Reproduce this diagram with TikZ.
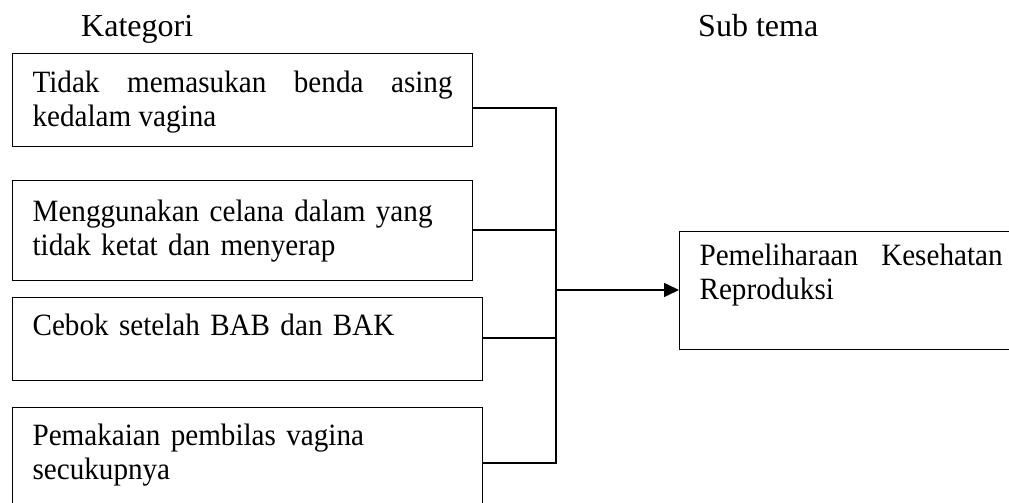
\documentclass[tikz,border=0pt]{standalone}
\usepackage{fontspec}
\setmainfont{Liberation Serif}
\newfontfamily\isiHuruf{Liberation Serif}[FakeStretch=0.94]
\usetikzlibrary{arrows.meta}
\newcommand{\judulFont}[0]{\fontsize{32}{36}\selectfont}
\newcommand{\kotakFont}[0]{\isiHuruf\fontsize{31}{34}\selectfont}
\hyphenpenalty=10000
\tolerance=9999

\begin{document}
\begin{tikzpicture}[x=1pt, y=-1pt]
  \tikzset{judul/.style={anchor=base west, inner sep=0pt, font=\judulFont},
    kotak/.style={draw, line width=1.2pt, anchor=north west, inner xsep=20pt,
      inner ysep=0pt, text width=#1, align=left, font=\kotakFont},
    garis/.style={line width=1.6pt}}
  \useasboundingbox (0,0) rectangle (1009,503);
  \node[judul] (kat) at (81,37) {Kategori};
  \node[judul] (subtema) at (698,37) {Sub tema};
  \node[kotak=420pt, align=justify, text height=39pt, text depth=54pt] (k1) at (12,53)
    {Tidak memasukan benda asing kedalam vagina};
  \node[kotak=420pt, text height=41pt, text depth=59pt] (k2) at (12,180)
    {Menggunakan celana dalam yang\\tidak ketat dan menyerap};
  \node[kotak=430pt, text height=38pt, text depth=45pt] (k3) at (12,297)
    {Cebok setelah BAB dan BAK};
  \node[kotak=430pt, text height=38pt, text depth=75pt] (k4) at (12,407)
    {Pemakaian pembilas vagina\\secukupnya};
  \node[kotak=303pt, align=justify, text height=34pt, text depth=84pt] (tema) at (679,231)
    {Pemeliharaan Kesehatan Reproduksi};
  \coordinate (t1) at (556,108);
  \coordinate (t2) at (556,230);
  \coordinate (t3) at (556,338);
  \coordinate (t4) at (556,463);
  \coordinate (tengah) at (556,290);
  \draw[garis] (k1.east |- t1) -- (t1) -- (t4) -- (k4.east |- t4);
  \draw[garis] (k2.east |- t2) -- (t2);
  \draw[garis] (k3.east |- t3) -- (t3);
  \draw[garis, -{Triangle[length=15pt, width=14pt]}] (tengah) -- (tema.west |- tengah);
\end{tikzpicture}
\end{document}
